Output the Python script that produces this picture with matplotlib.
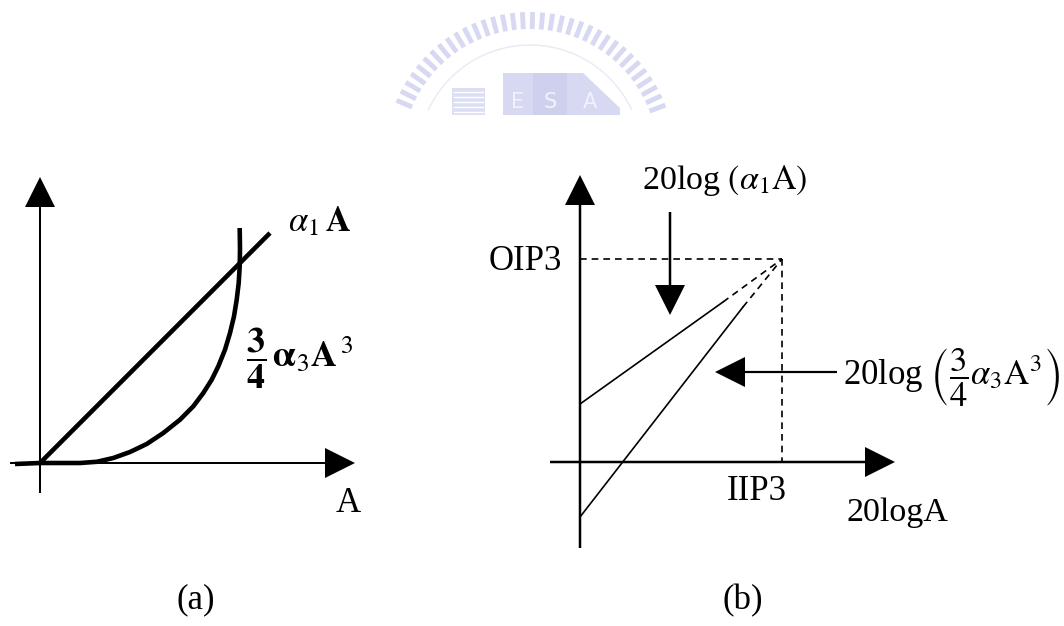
import matplotlib
matplotlib.use("Agg")
import matplotlib.pyplot as plt
from matplotlib.patches import Rectangle, Polygon
import numpy as np

plt.rcParams['font.family'] = 'serif'
plt.rcParams['font.serif'] = ['Liberation Serif', 'DejaVu Serif']
plt.rcParams['mathtext.fontset'] = 'stix'

W, H = 1064, 626

# (a) linear term and the cubic term, drawn in linear units
lin_A = [0.0, 2.3]
lin_y = [0.0, 2.3]
cub_A = [-0.25, 0.0, 0.23, 0.4, 0.567, 0.733, 0.9, 1.067, 1.233, 1.4, 1.533,
         1.633, 1.717, 1.783, 1.85, 1.9, 1.94, 1.967, 1.987, 1.997, 2.0, 1.997]
cub_y = [-0.01, 0.0, 0.0, 0.0, 0.012, 0.05, 0.11, 0.19, 0.3, 0.433, 0.567,
         0.7, 0.833, 0.967, 1.133, 1.3, 1.467, 1.633, 1.8, 1.967, 2.133, 2.35]

# (b) same two terms on a log-log scale, meeting at the intercept point
iip3 = 2.02
oip3 = 2.03
fund_x = [0.0, 1.43, iip3]
fund_y = [0.58, 1.60, oip3]
im3_x = [0.0, 1.63, iip3]
im3_y = [-0.55, 1.55, oip3]

fig = plt.figure(figsize=(W / 100, H / 100), dpi=100)

# faint university watermark behind everything
bg = fig.add_axes([0, 0, 1, 1])
bg.set_xlim(0, W)
bg.set_ylim(H, 0)
bg.axis('off')
wm = '#d6d9f1'
cx, cy = 530, 157
for th in np.deg2rad(np.arange(21, 160, 4)):
    bg.plot([cx + 128 * np.cos(th), cx + 145 * np.cos(th)],
            [cy - 128 * np.sin(th), cy - 145 * np.sin(th)],
            color=wm, lw=3.5, solid_capstyle='butt')
arc = np.deg2rad(np.linspace(25, 155, 60))
bg.plot(cx + 112 * np.cos(arc), cy - 112 * np.sin(arc), color='#e8eaf6', lw=1)
bg.add_patch(Rectangle((452, 88), 33, 27, color='#dcdff3', lw=0))
for yy in range(92, 115, 5):
    bg.plot([454, 483], [yy, yy], color='white', lw=1)
bg.add_patch(Rectangle((503, 73), 30, 42, color=wm, lw=0))
bg.add_patch(Rectangle((533, 73), 34, 42, color='#cdd1ed', lw=0))
bg.add_patch(Polygon([(567, 73), (583, 73), (620, 108), (620, 115), (567, 115)],
                     closed=True, color=wm, lw=0))
for lx, ch in [(518, 'E'), (550, 'S'), (590, 'A')]:
    bg.text(lx, 102, ch, color='#f1f2fa', fontsize=15, ha='center', va='center',
            family='DejaVu Sans')


def panel(x0, y0, x1, y1, ox, oy):
    # axes placed in pixels, 100 px per data unit, origin at (ox, oy)
    ax = fig.add_axes([x0 / W, 1 - y1 / H, (x1 - x0) / W, (y1 - y0) / H])
    ax.set_xlim((x0 - ox) / 100, (x1 - ox) / 100)
    ax.set_ylim((oy - y1) / 100, (oy - y0) / 100)
    ax.axis('off')
    ax.patch.set_alpha(0)
    return ax


def axis_arrow(ax, x, y, dx, dy, shaft):
    ax.arrow(x, y, dx, dy, width=shaft, head_width=0.30, head_length=0.30,
             length_includes_head=True, color='black', lw=0)


# ---- panel (a)
axa = panel(0, 160, 380, 540, 40, 463)
axis_arrow(axa, 0, -0.30, 0, 3.16, 0.02)
axis_arrow(axa, -0.30, 0, 3.45, 0, 0.02)
axa.plot(lin_A, lin_y, color='black', lw=3.3, solid_capstyle='butt')
axa.plot(cub_A, cub_y, color='black', lw=3.3, solid_capstyle='butt')
axa.text(2.48, 2.41, r'$\alpha_1\,\mathbf{A}$', fontsize=25, ha='left', va='center')
axa.text(2.06, 1.05, r'$\mathbf{\dfrac{3}{4}}\,\mathbf{\alpha}_3\mathbf{A}^{\,3}$',
         fontsize=26, ha='left', va='center')
axa.text(3.08, -0.40, 'A', fontsize=25, ha='center', va='center')

# ---- panel (b)
axb = panel(480, 160, 1064, 560, 580, 462)
axis_arrow(axb, 0, -0.86, 0, 3.73, 0.025)
axis_arrow(axb, -0.30, 0, 3.45, 0, 0.025)
dash = dict(color='black', lw=1.2, dashes=(4, 3))
axb.plot([0, iip3], [oip3, oip3], **dash)
axb.plot([iip3, iip3], [oip3, 0], **dash)
axb.plot(fund_x[:2], fund_y[:2], color='black', lw=1.2)
axb.plot(fund_x[1:], fund_y[1:], **dash)
axb.plot(im3_x[:2], im3_y[:2], color='black', lw=1.2)
axb.plot(im3_x[1:], im3_y[1:], **dash)

# pointer arrows to the two lines
axb.arrow(0.9, 2.50, 0, -1.03, width=0.025, head_width=0.30, head_length=0.30,
          length_includes_head=True, color='black', lw=0)
axb.arrow(2.57, 0.90, -1.22, 0, width=0.022, head_width=0.30, head_length=0.30,
          length_includes_head=True, color='black', lw=0)

axb.text(0.62, 2.82, r'20log $\left(\alpha_1\mathrm{A}\right)$', fontsize=24.5,
         ha='left', va='center')
axb.text(2.63, 0.85, r'20log $\left(\dfrac{3}{4}\alpha_3\mathrm{A}^3\right)$',
         fontsize=25, ha='left', va='center')
axb.text(-0.18, oip3 - 0.02, 'OIP3', fontsize=25, ha='right', va='center')
axb.text(1.47, -0.30, 'IIP3', fontsize=25, ha='left', va='center')
axb.text(2.67, -0.51, '20logA', fontsize=24.5, ha='left', va='center')

fig.text(196 / W, 1 - 600 / H, '(a)', fontsize=25, ha='center', va='center')
fig.text(743 / W, 1 - 601 / H, '(b)', fontsize=25, ha='center', va='center')

fig.savefig('out.png', dpi=100)
